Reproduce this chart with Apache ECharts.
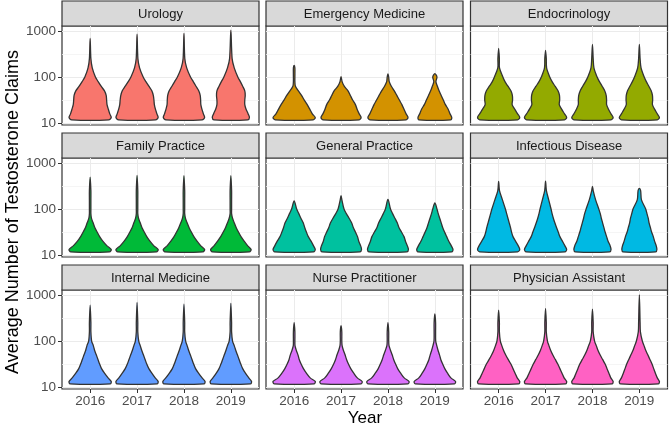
<!DOCTYPE html>
<html>
<head>
<meta charset="utf-8">
<script src="https://cdn.jsdelivr.net/npm/echarts@6/dist/echarts.min.js"></script>
<style>
  html, body { margin: 0; padding: 0; background: #ffffff; }
  #main { width: 672px; height: 425px; }
</style>
</head>
<body>
<div id="main"></div>
<script>
// ---- data ----
var years = ['2016', '2017', '2018', '2019'];
var specialties = [
    'Urology', 'Emergency Medicine', 'Endocrinology',
    'Family Practice', 'General Practice', 'Infectious Disease',
    'Internal Medicine', 'Nurse Practitioner', 'Physician Assistant'
];
var yTickValues = [10, 100, 1000];
var yMinorValues = [31.62, 316.2];

// claim levels where the violin half-widths were read (relative to widest)
var levelValues = [11.7, 13.2, 15.8, 20, 25.1, 31.6, 39.8, 50.1, 63.1, 79.4, 100, 158, 251];

// top of each violin (max claims) per year
var urologyTops = [690, 850, 890, 1050];
var emergencyTops = [178, 102, 117, 118];
var endocrinologyTops = [420, 380, 510, 510];
var familyTops = [490, 535, 530, 530];
var generalTops = [150, 195, 162, 135];
var infectiousTops = [400, 405, 310, 280];
var internalTops = [600, 690, 630, 660];
var nurseTops = [250, 215, 250, 390];
var physicianTops = [470, 510, 490, 1000];

// relative half-width of each violin at levelValues
var urologyWidths = [
    [0.88, 1.00, 0.93, 0.86, 0.80, 0.78, 0.76, 0.68, 0.52, 0.38, 0.25, 0.10, 0.03],
    [0.88, 1.00, 0.94, 0.87, 0.82, 0.80, 0.77, 0.70, 0.56, 0.42, 0.29, 0.12, 0.04],
    [0.86, 0.98, 0.92, 0.85, 0.80, 0.79, 0.77, 0.70, 0.57, 0.44, 0.31, 0.13, 0.04],
    [0.80, 0.88, 0.82, 0.72, 0.66, 0.66, 0.68, 0.66, 0.56, 0.45, 0.33, 0.16, 0.06]
];
var emergencyWidths = [
    [0.90, 1.00, 0.86, 0.74, 0.62, 0.48, 0.35, 0.20, 0.06, 0.03, 0, 0, 0],
    [0.86, 0.95, 0.86, 0.76, 0.68, 0.55, 0.44, 0.33, 0.15, 0.05, 0, 0, 0],
    [0.86, 0.95, 0.86, 0.76, 0.66, 0.54, 0.42, 0.30, 0.16, 0.06, 0.03, 0, 0],
    [0.76, 0.80, 0.72, 0.63, 0.50, 0.40, 0.30, 0.20, 0.12, 0.05, 0.10, 0, 0]
];
var endocrinologyWidths = [
    [0.90, 1.00, 0.90, 0.76, 0.64, 0.66, 0.65, 0.58, 0.44, 0.30, 0.20, 0.04, 0],
    [0.90, 1.00, 0.90, 0.76, 0.65, 0.67, 0.66, 0.59, 0.45, 0.31, 0.20, 0.05, 0],
    [0.88, 0.98, 0.88, 0.76, 0.67, 0.67, 0.65, 0.58, 0.46, 0.33, 0.22, 0.07, 0.02],
    [0.85, 0.95, 0.85, 0.72, 0.62, 0.63, 0.62, 0.56, 0.45, 0.33, 0.23, 0.08, 0.02]
];
var familyWidths = [
    [0.92, 1.00, 0.80, 0.60, 0.45, 0.33, 0.22, 0.14, 0.06, 0.03, 0, 0, 0],
    [0.92, 1.00, 0.80, 0.61, 0.46, 0.34, 0.23, 0.15, 0.07, 0.03, 0, 0, 0],
    [0.90, 0.98, 0.80, 0.62, 0.47, 0.35, 0.24, 0.15, 0.07, 0.03, 0, 0, 0],
    [0.88, 0.96, 0.80, 0.63, 0.48, 0.36, 0.25, 0.16, 0.08, 0.03, 0, 0, 0]
];
var generalWidths = [
    [0.92, 1.00, 0.92, 0.80, 0.67, 0.58, 0.50, 0.43, 0.32, 0.22, 0.12, 0, 0],
    [0.90, 0.97, 0.93, 0.84, 0.78, 0.68, 0.58, 0.50, 0.38, 0.25, 0.14, 0.04, 0],
    [0.90, 0.97, 0.92, 0.83, 0.76, 0.64, 0.52, 0.44, 0.33, 0.22, 0.12, 0.02, 0],
    [0.80, 0.86, 0.78, 0.66, 0.56, 0.46, 0.37, 0.30, 0.23, 0.16, 0.10, 0, 0]
];
var infectiousWidths = [
    [0.90, 1.00, 0.93, 0.80, 0.68, 0.61, 0.56, 0.50, 0.44, 0.38, 0.32, 0.18, 0.04],
    [0.92, 1.00, 0.92, 0.80, 0.68, 0.60, 0.52, 0.44, 0.37, 0.31, 0.26, 0.15, 0.04],
    [0.82, 0.88, 0.84, 0.74, 0.67, 0.60, 0.54, 0.48, 0.42, 0.37, 0.30, 0.15, 0.02],
    [0.78, 0.83, 0.80, 0.72, 0.66, 0.58, 0.52, 0.46, 0.42, 0.36, 0.30, 0.10, 0.06]
];
var internalWidths = [
    [0.95, 1.00, 0.85, 0.68, 0.54, 0.45, 0.37, 0.29, 0.21, 0.15, 0.07, 0.02, 0],
    [0.95, 1.00, 0.86, 0.70, 0.56, 0.46, 0.38, 0.30, 0.22, 0.15, 0.08, 0.02, 0],
    [0.95, 1.00, 0.86, 0.69, 0.55, 0.46, 0.38, 0.30, 0.22, 0.15, 0.08, 0.02, 0],
    [0.93, 0.98, 0.85, 0.69, 0.56, 0.47, 0.39, 0.31, 0.23, 0.16, 0.08, 0.02, 0]
];
var nurseWidths = [
    [0.95, 1.00, 0.76, 0.58, 0.44, 0.33, 0.24, 0.18, 0.10, 0.04, 0, 0, 0],
    [0.95, 1.00, 0.77, 0.60, 0.46, 0.35, 0.26, 0.19, 0.11, 0.05, 0, 0, 0],
    [0.95, 1.00, 0.77, 0.60, 0.46, 0.36, 0.27, 0.20, 0.12, 0.05, 0.02, 0, 0],
    [0.93, 0.98, 0.76, 0.60, 0.47, 0.37, 0.28, 0.22, 0.15, 0.09, 0.04, 0, 0]
];
var physicianWidths = [
    [0.95, 1.00, 0.88, 0.78, 0.68, 0.58, 0.45, 0.33, 0.23, 0.15, 0.08, 0.02, 0],
    [0.95, 1.00, 0.88, 0.78, 0.68, 0.58, 0.46, 0.34, 0.24, 0.16, 0.09, 0.03, 0],
    [0.93, 0.98, 0.87, 0.78, 0.69, 0.60, 0.48, 0.36, 0.26, 0.18, 0.10, 0.03, 0],
    [0.90, 0.95, 0.85, 0.76, 0.68, 0.60, 0.50, 0.40, 0.30, 0.22, 0.14, 0.05, 0.02]
];

var panelTops = [urologyTops, emergencyTops, endocrinologyTops, familyTops, generalTops,
    infectiousTops, internalTops, nurseTops, physicianTops];
var panelWidths = [urologyWidths, emergencyWidths, endocrinologyWidths, familyWidths, generalWidths,
    infectiousWidths, internalWidths, nurseWidths, physicianWidths];

// ---- look ----
var fillColors = ['#F8766D', '#D39200', '#93AA00', '#00BA38', '#00C19F',
    '#00B9E3', '#619CFF', '#DB72FB', '#FF61C3'];
var font = '"Liberation Sans", Arial, Helvetica, sans-serif';
var colLeft = [62, 266, 470.5];
var rowTop = [1, 133, 265];
var panelW = 197;
var stripH = 25;
var panelH = 99;
var yMin = 0.957, yMax = 3.109;   // log10 limits of the panels
var tailWidth = 0.035;
var maxHalf = 0.45;

var dom = document.getElementById('main');
var myChart = echarts.init(dom);

function renderViolin(params, api) {
    var x = api.value(0);
    var p = api.value(1);
    var w = panelWidths[p][x - 1];
    var top = Math.log10(panelTops[p][x - 1]);
    var right = [], left = [];
    for (var k = 0; k < levelValues.length; k++) {
        var ly = Math.log10(levelValues[k]);
        if (ly >= top - 0.03) break;
        var hw = maxHalf * Math.max(w[k], tailWidth);
        right.push(api.coord([x + hw, ly]));
        left.push(api.coord([x - hw, ly]));
    }
    var pts = right.concat([api.coord([x, top])], left.reverse());
    return {
        type: 'polygon',
        shape: { points: pts, smooth: 0.3 },
        style: { fill: fillColors[p], stroke: '#333333', lineWidth: 1.3 }
    };
}

var grids = [], xAxes = [], yAxes = [], series = [], graphics = [];
specialties.forEach(function (name, p) {
    var r = Math.floor(p / 3), c = p % 3;
    grids.push({
        left: colLeft[c], top: rowTop[r] + stripH, width: panelW, height: panelH,
        show: true, borderColor: '#333333', borderWidth: 1.2, backgroundColor: '#FFFFFF'
    });
    xAxes.push({
        type: 'value', gridIndex: p, min: 0.4, max: 4.6,
        axisLine: { show: false },
        axisTick: { show: r === 2, customValues: [1, 2, 3, 4], length: 4,
            lineStyle: { color: '#333333', width: 1 } },
        axisLabel: { show: r === 2, customValues: [1, 2, 3, 4], margin: 5,
            color: '#4D4D4D', fontSize: 13.5, fontFamily: font,
            formatter: function (v) { return years[Math.round(v) - 1]; } },
        splitLine: { show: true, lineStyle: { color: '#EBEBEB', width: 1 } }
    });
    yAxes.push({
        type: 'value', gridIndex: p, min: yMin, max: yMax,
        axisLine: { show: false },
        axisTick: { show: c === 0, customValues: yTickValues.map(Math.log10), length: 4,
            lineStyle: { color: '#333333', width: 1 } },
        axisLabel: { show: c === 0, customValues: yTickValues.map(Math.log10), margin: 6,
            color: '#4D4D4D', fontSize: 13.5, fontFamily: font,
            formatter: function (v) { return String(Math.round(Math.pow(10, v))); } },
        splitLine: { show: true, lineStyle: { color: '#EBEBEB', width: 1 } }
    });
    yAxes.push({
        type: 'value', gridIndex: p, min: yMin, max: yMax,
        axisLine: { show: false },
        axisTick: { show: false, customValues: yMinorValues.map(Math.log10) },
        axisLabel: { show: false },
        splitLine: { show: true, lineStyle: { color: '#F2F2F2', width: 0.8 } }
    });
    series.push({
        type: 'custom', xAxisIndex: p, yAxisIndex: 2 * p,
        renderItem: renderViolin,
        data: years.map(function (y, j) { return [j + 1, p]; }),
        silent: true, clip: true
    });
    graphics.push({
        type: 'rect',
        shape: { x: colLeft[c], y: rowTop[r], width: panelW, height: stripH },
        style: { fill: '#D9D9D9', stroke: '#333333', lineWidth: 1.2 }
    });
    graphics.push({
        type: 'text', x: colLeft[c] + panelW / 2, y: rowTop[r] + stripH / 2 + 0.5,
        style: { text: name, fill: '#1A1A1A', fontSize: 13, fontFamily: font,
            align: 'center', verticalAlign: 'middle' }
    });
});

graphics.push({
    type: 'text', x: 365, y: 418,
    style: { text: 'Year', fill: '#000000', fontSize: 17, fontFamily: font,
        align: 'center', verticalAlign: 'middle' }
});
graphics.push({
    type: 'text', x: 13, y: 212, rotation: Math.PI / 2,
    style: { text: 'Average Number of Testosterone Claims', fill: '#000000', fontSize: 18,
        fontFamily: font, align: 'center', verticalAlign: 'middle' }
});

var option = {
    backgroundColor: '#FFFFFF',
    animation: false,
    grid: grids,
    xAxis: xAxes,
    yAxis: yAxes,
    series: series,
    graphic: graphics
};

if (option && typeof option === 'object') {
    myChart.setOption(option);
}
</script>
</body>
</html>
